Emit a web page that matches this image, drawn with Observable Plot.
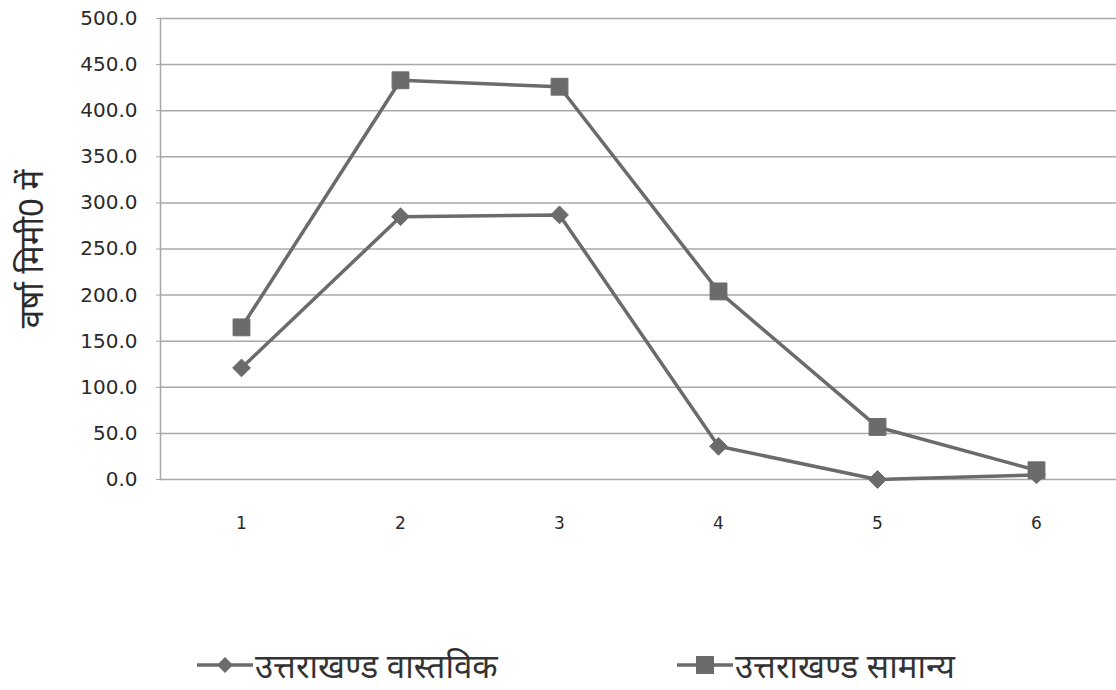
<!DOCTYPE html>
<html>
<head>
<meta charset="utf-8">
<script src="https://cdn.jsdelivr.net/npm/d3@7"></script>
<script src="https://cdn.jsdelivr.net/npm/@observablehq/plot@0.6"></script>
<style>
  html, body { margin: 0; padding: 0; background: #fff; }
  #wrap { position: relative; width: 1116px; height: 690px; overflow: hidden; }
  #legend { position: absolute; left: 0; top: 640px; width: 1116px; height: 50px; font-family: "Noto Sans", "DejaVu Sans", sans-serif; font-size: 33px; color: #333; }
  .item { position: absolute; top: 0px; height: 50px; display: flex; align-items: center; }
  .item svg { margin-right: 2px; }
</style>
</head>
<body>
<div id="wrap">
  <div id="chart"></div>
  <div id="legend"></div>
</div>
<script>
const months = [1, 2, 3, 4, 5, 6];
const actual = [121, 285, 287, 36, 0, 5];
const normal = [165, 433, 426, 204, 57, 10];
const seriesNames = ["उत्तराखण्ड वास्तविक", "उत्तराखण्ड सामान्य"];
const yTicks = [0, 50, 100, 150, 200, 250, 300, 350, 400, 450, 500];
const yLabel = "वर्षा मिमी0 में";

const actualData = months.map((m, i) => ({month: m, value: actual[i]}));
const normalData = months.map((m, i) => ({month: m, value: normal[i]}));
const lineColor = "#6b6b6b";

const chart = Plot.plot({
  width: 1116,
  height: 640,
  marginTop: 18,
  marginBottom: 161,
  marginLeft: 160,
  marginRight: 0,
  style: {fontFamily: "'DejaVu Sans', Verdana, sans-serif", fontSize: "17px", color: "#2a2a2a", background: "#fff"},
  x: {type: "point", domain: months, padding: 0.5},
  y: {domain: [0, 500]},
  marks: [
    Plot.ruleY(yTicks, {stroke: "#a8a8a8", strokeWidth: 1.5}),
    Plot.frame({anchor: "left", stroke: "#a8a8a8", strokeWidth: 1.5}),
    Plot.axisY({ticks: yTicks, tickFormat: d3.format(".1f"), tickSize: 4, tickPadding: 19, stroke: "#a8a8a8", label: null, fontSize: 20}),
    Plot.axisX({tickSize: 0, tickPadding: 37, label: null, fontSize: 17}),
    Plot.text([yLabel], {frameAnchor: "left", textAnchor: "middle", dx: -128, rotate: -90, fontSize: 33, fill: "#2a2a2a", fontFamily: "'Noto Sans', sans-serif"}),
    Plot.line(actualData, {x: "month", y: "value", stroke: lineColor, strokeWidth: 3.5}),
    Plot.line(normalData, {x: "month", y: "value", stroke: lineColor, strokeWidth: 3.5}),
    Plot.dot(actualData, {x: "month", y: "value", symbol: "diamond2", r: 8, fill: lineColor, stroke: lineColor, strokeWidth: 1}),
    Plot.dot(normalData, {x: "month", y: "value", symbol: "square", r: 9.5, fill: lineColor, stroke: lineColor, strokeWidth: 1})
  ]
});
document.getElementById("chart").appendChild(chart);

const legend = document.getElementById("legend");
const items = [
  {left: 197, name: seriesNames[0], marker: '<path d="M28,8 L36,16 L28,24 L20,16 Z" fill="#6b6b6b"/>'},
  {left: 677, name: seriesNames[1], marker: '<rect x="19" y="7" width="18" height="18" fill="#6b6b6b"/>'}
];
items.forEach(it => {
  const d = document.createElement("div");
  d.className = "item";
  d.style.left = it.left + "px";
  d.innerHTML = `<svg width="56" height="32"><line x1="0" y1="16" x2="56" y2="16" stroke="#6b6b6b" stroke-width="3.5"/>${it.marker}</svg><span>${it.name}</span>`;
  legend.appendChild(d);
});
</script>
</body>
</html>
